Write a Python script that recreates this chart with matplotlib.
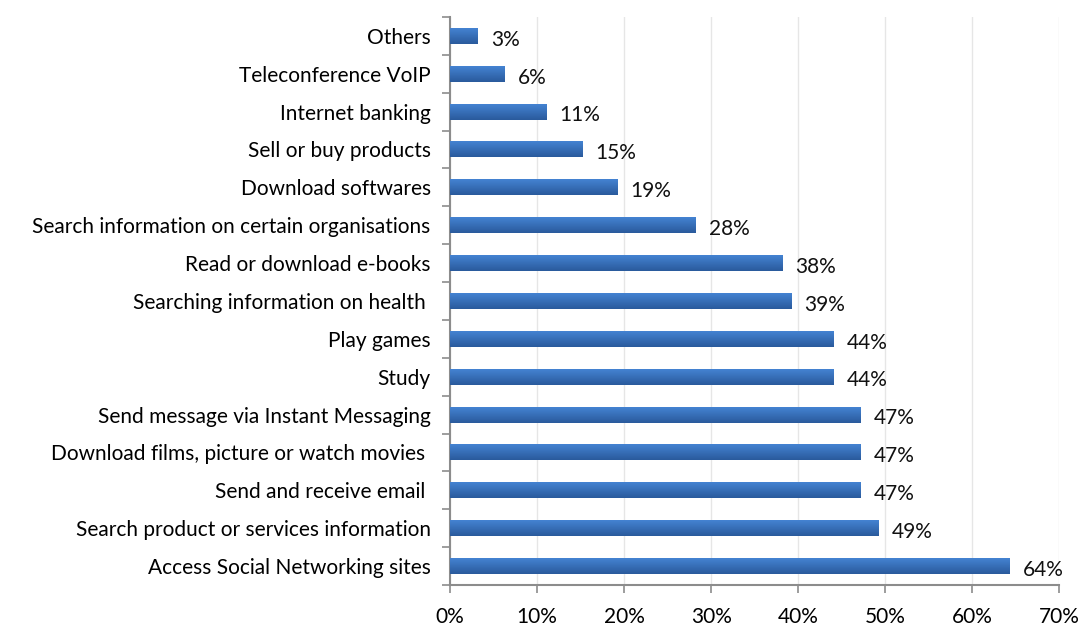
import matplotlib

matplotlib.use("Agg")
import matplotlib.pyplot as plt
import numpy as np
from matplotlib.ticker import FixedLocator

plt.rcParams["font.family"] = ["Lato", "DejaVu Sans"]

categories = [
    "Access Social Networking sites",
    "Search product or services information",
    "Send and receive email ",
    "Download films, picture or watch movies ",
    "Send message via Instant Messaging",
    "Study",
    "Play games",
    "Searching information on health ",
    "Read or download e-books",
    "Search information on certain organisations",
    "Download softwares",
    "Sell or buy products",
    "Internet banking",
    "Teleconference VoIP",
    "Others",
]
shares = [64.3, 49.2, 47.2, 47.2, 47.2, 44.1, 44.1, 39.2, 38.2, 28.2, 19.2, 15.2, 11.1, 6.3, 3.2]
xticks = [0, 10, 20, 30, 40, 50, 60, 70]

TOP = "#4483D2"
BOTTOM = "#2A5A9C"
AXIS = "#8C8C8C"
FS = 15

fig = plt.figure(figsize=(10.82, 6.28), dpi=100)
ax = fig.add_axes([0.416, 0.0685, 0.563, 0.9045])

y = np.arange(len(categories))
bar_h = 0.42
bars = ax.barh(y, shares, height=bar_h, color=BOTTOM, zorder=2)

# vertical gradient inside each bar: lighter on top, darker at the bottom
grad = np.linspace(0, 1, 64).reshape(-1, 1)
cmap = matplotlib.colors.LinearSegmentedColormap.from_list("bar", [BOTTOM, TOP])
for rect in bars:
    x0, y0 = rect.get_x(), rect.get_y()
    w, h = rect.get_width(), rect.get_height()
    ax.imshow(grad, extent=(x0, x0 + w, y0, y0 + h), cmap=cmap, aspect="auto",
              origin="lower", zorder=3, interpolation="bicubic")

for yi, v in zip(y, shares):
    ax.text(v + 1.5, yi - 0.1, f"{v:.0f}%", va="center", ha="left", fontsize=FS, color="#111111")

ax.set_xlim(0, 70)
ax.set_ylim(-0.5, len(categories) - 0.5)
ax.set_xticks(xticks)
ax.set_xticklabels([f"{t}%" for t in xticks], fontsize=FS)
ax.set_yticks(y)
ax.set_yticklabels(categories, fontsize=FS)
ax.yaxis.set_minor_locator(FixedLocator(np.arange(-0.5, len(categories), 1.0)))
ax.tick_params(axis="y", which="major", length=0, pad=14)
ax.tick_params(axis="y", which="minor", length=6, color=AXIS, width=1.2, direction="out")
ax.tick_params(axis="x", length=6, color=AXIS, width=1.2, pad=10)

ax.grid(axis="x", color="#E6E6E6", linewidth=1.0, zorder=0)
ax.set_axisbelow(True)
for side in ("top", "right"):
    ax.spines[side].set_visible(False)
for side in ("left", "bottom"):
    ax.spines[side].set_color(AXIS)
    ax.spines[side].set_linewidth(1.5)

fig.savefig("out.png", dpi=100)
